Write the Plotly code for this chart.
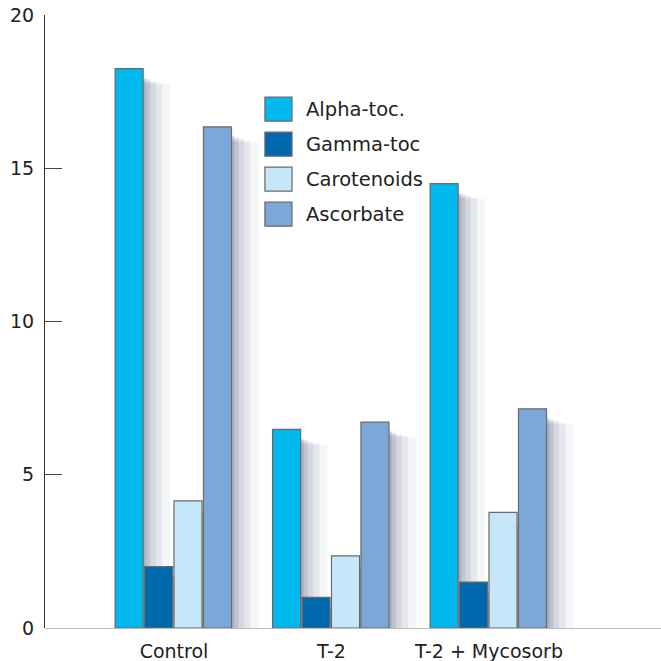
import plotly.graph_objects as go

categories = ["Control", "T-2", "T-2 + Mycosorb"]
series_names = ["Alpha-toc.", "Gamma-toc", "Carotenoids", "Ascorbate"]
alpha_toc = [18.25, 6.48, 14.5]
gamma_toc = [2.0, 1.0, 1.5]
carotenoids = [4.15, 2.35, 3.77]
ascorbate = [16.35, 6.72, 7.15]
y_ticks = [0, 5, 10, 15, 20]

series_values = [alpha_toc, gamma_toc, carotenoids, ascorbate]
colors = ["#00b9ef", "#0068ac", "#c6e7f9", "#7ba7d9"]
FONT = "'DejaVu Sans', sans-serif"

step = 0.187
bw = 0.178
fig = go.Figure()

# soft shadows (drawn first, darker close to the bar)
shadow_layers = [(0.17, 0.5, 0.05), (0.12, 0.45, 0.07), (0.08, 0.4, 0.09), (0.045, 0.35, 0.12), (0.02, 0.3, 0.14)]
for j, vals in enumerate(series_values):
    off = -2 * step + j * step
    for extra, drop, op in shadow_layers:
        fig.add_trace(go.Bar(
            x=categories, y=[max(v - drop, 0) for v in vals], offset=off, width=bw + extra,
            marker=dict(color=f"rgba(45,60,105,{op})", line=dict(width=0)),
            showlegend=False, hoverinfo="skip"))

for j, (name, vals) in enumerate(zip(series_names, series_values)):
    off = -2 * step + j * step
    fig.add_trace(go.Bar(
        x=categories, y=vals, name=name, offset=off, width=bw,
        marker=dict(color=colors[j], line=dict(color="#6a6a6a", width=1.2)),
        showlegend=False))

# custom legend
lx0, lx1 = 0.357, 0.401
ltop = 0.866
lh = 24 / 613
lstep = 35 / 613
for j, name in enumerate(series_names):
    yt = ltop - j * lstep
    fig.add_shape(type="rect", xref="paper", yref="paper",
                  x0=lx0, x1=lx1, y0=yt - lh, y1=yt,
                  fillcolor=colors[j], line=dict(color="#6a6a6a", width=1.2))
    fig.add_annotation(xref="paper", yref="paper", x=0.42, y=yt - lh / 2,
                       text=name, showarrow=False, xanchor="left", yanchor="middle",
                       font=dict(family=FONT, size=19.5, color="#222"))

fig.update_layout(
    barmode="overlay",
    width=661, height=661,
    margin=dict(l=45, r=0, t=15, b=33),
    paper_bgcolor="white", plot_bgcolor="white",
    font=dict(family=FONT, color="#222"),
)
fig.update_xaxes(
    type="category", categoryorder="array", categoryarray=categories,
    range=[-0.819, 3.092], showgrid=False, zeroline=False,
    showline=False, ticks="", ticklabelstandoff=10, automargin=False,
    tickfont=dict(family=FONT, size=19, color="#222"),
)
fig.update_yaxes(
    range=[0, 20], tickvals=y_ticks, ticktext=[str(t) for t in y_ticks],
    showgrid=False, zeroline=True, zerolinecolor="#bdbdbd", zerolinewidth=1,
    showline=True, linecolor="#333", linewidth=1,
    ticks="inside", ticklen=17, tickcolor="#444", tickwidth=1,
    ticklabelstandoff=6, automargin=False,
    tickfont=dict(family=FONT, size=19, color="#222"),
)

fig.write_html("out.html")
